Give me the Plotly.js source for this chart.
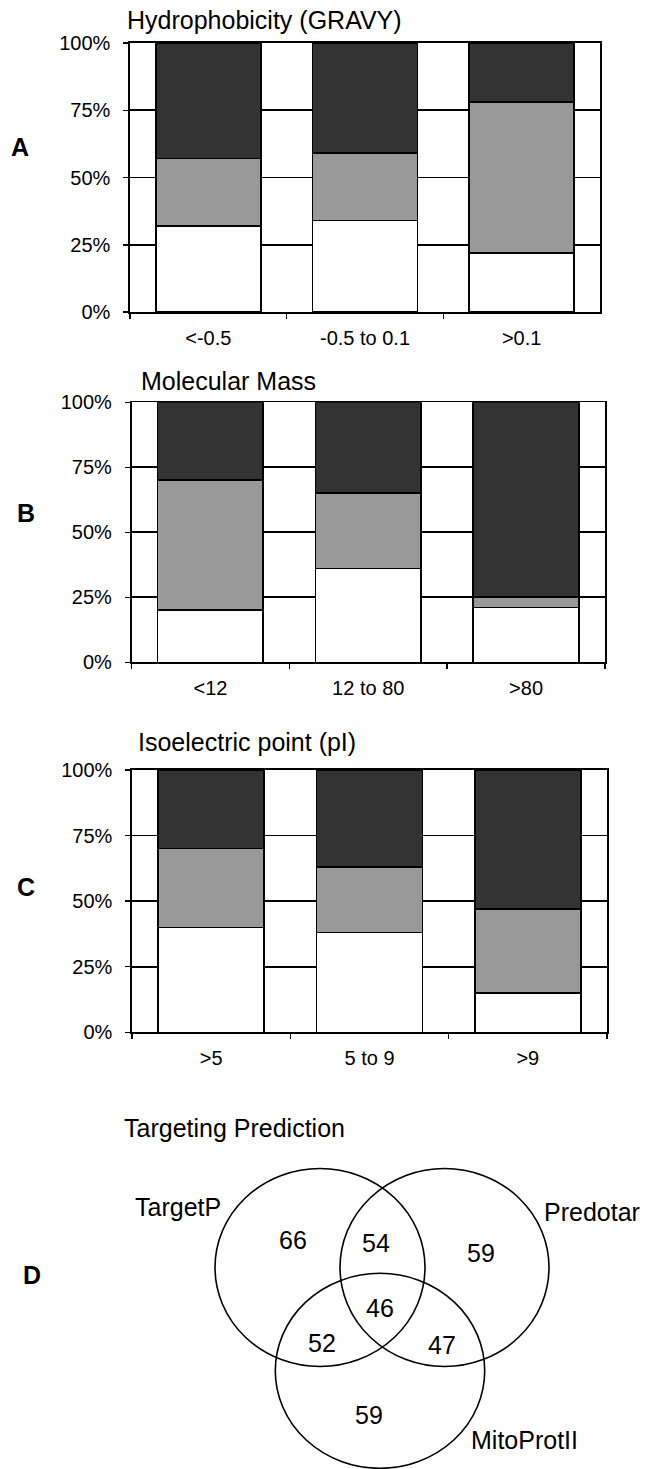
<!DOCTYPE html>
<html>
<head>
<meta charset="utf-8">
<script src="https://cdn.plot.ly/plotly-3.0.1.min.js"></script>
<style>
  html, body { margin: 0; padding: 0; background: #ffffff; }
  #chart { width: 647px; height: 1469px; }
</style>
</head>
<body>
<div id="chart"></div>
<script>
// ---------------- DATA ----------------
const categoriesA = ['<-0.5', '-0.5 to 0.1', '>0.1'];
const whiteA = [32, 34, 22];
const grayA  = [25, 25, 56];
const darkA  = [43, 41, 22];

const categoriesB = ['<12', '12 to 80', '>80'];
const whiteB = [20, 36, 21];
const grayB  = [50, 29, 4];
const darkB  = [30, 35, 75];

const categoriesC = ['>5', '5 to 9', '>9'];
const whiteC = [40, 38, 15];
const grayC  = [30, 25, 32];
const darkC  = [30, 37, 53];

const yTickVals = [0, 25, 50, 75, 100];
const yTickText = ['0%', '25%', '50%', '75%', '100%'];

const panelTitles = ['Hydrophobicity (GRAVY)', 'Molecular Mass', 'Isoelectric point (pI)', 'Targeting Prediction'];
const panelLetters = ['A', 'B', 'C', 'D'];

const vennSets = ['TargetP', 'Predotar', 'MitoProtII'];
const vennRegions = ['TargetP only', 'Predotar only', 'MitoProtII only',
                     'TargetP & Predotar', 'TargetP & MitoProtII', 'Predotar & MitoProtII', 'All three'];
const vennCounts = [66, 59, 59, 54, 52, 47, 46];

// ---------------- LAYOUT GEOMETRY (pixels on the 647x1469 page) ----------------
const W = 647, H = 1469;
const px = x => x / W;
const py = y => 1 - y / H;

const FONT = 'Liberation Sans, Arial, Helvetica, sans-serif';
const DARK = '#333333', GRAY = '#999999', WHITE = '#ffffff';

const panels = [
  {cats: categoriesA, white: whiteA, gray: grayA, dark: darkA, x0: 130, x1: 600, yTop: 43, yBot: 312},
  {cats: categoriesB, white: whiteB, gray: grayB, dark: darkB, x0: 131.5, x1: 605, yTop: 402.3, yBot: 662.3},
  {cats: categoriesC, white: whiteC, gray: grayC, dark: darkC, x0: 132, x1: 607, yTop: 770, yBot: 1032.3}
];

const titlePos  = [{x: 125, y: 20}, {x: 139, y: 381}, {x: 136, y: 742}, {x: 122, y: 1128}];
const letterPos = [{x: 20, y: 147}, {x: 26, y: 513}, {x: 26, y: 887}, {x: 32, y: 1275}];

const vennCircles = [
  {cx: 320,   cy: 1267.5, rx: 105,   ry: 99},
  {cx: 444.5, cy: 1267.5, rx: 104.5, ry: 99},
  {cx: 380,   cy: 1370.8, rx: 104.7, ry: 97.5}
];
const vennSetLabelPos = [{x: 178, y: 1207}, {x: 592, y: 1212}, {x: 524, y: 1440}];
const vennCountPos = [
  {x: 293, y: 1240}, {x: 481, y: 1253}, {x: 369, y: 1415},
  {x: 376, y: 1243}, {x: 322, y: 1343}, {x: 442, y: 1345}, {x: 380, y: 1308}
];

// ---------------- BUILD ----------------
const data = [];
const layout = {
  width: W, height: H,
  margin: {l: 0, r: 0, t: 0, b: 0},
  paper_bgcolor: '#ffffff',
  plot_bgcolor: '#ffffff',
  barmode: 'stack',
  bargap: 0.33,
  showlegend: false,
  font: {family: FONT, color: '#000000', size: 20},
  shapes: [],
  annotations: []
};

panels.forEach((p, i) => {
  const n = i === 0 ? '' : String(i + 1);
  const xa = 'x' + n, ya = 'y' + n;
  const line = {color: '#000000', width: 1.6};
  [['white', p.white, WHITE], ['gray', p.gray, GRAY], ['dark', p.dark, DARK]].forEach(([nm, vals, col]) => {
    data.push({
      type: 'bar', name: nm, x: p.cats, y: vals,
      xaxis: xa, yaxis: ya,
      marker: {color: col, line: line},
      hoverinfo: 'skip'
    });
  });
  layout['xaxis' + n] = {
    domain: [px(p.x0), px(p.x1)],
    anchor: ya,
    type: 'category',
    tickson: 'boundaries',
    ticks: 'outside', ticklen: 5, tickwidth: 1.5, tickcolor: '#000',
    showline: true, linecolor: '#000', linewidth: 1.6, mirror: true,
    showgrid: false, zeroline: false,
    tickfont: {family: FONT, size: 20, color: '#000'},
    ticklabelstandoff: 7,
    fixedrange: true
  };
  layout['yaxis' + n] = {
    domain: [py(p.yBot), py(p.yTop)],
    anchor: xa,
    range: [0, 100],
    tickvals: yTickVals, ticktext: yTickText,
    ticks: 'outside', ticklen: 5, tickwidth: 1.5, tickcolor: '#000',
    showline: true, linecolor: '#000', linewidth: 1.6, mirror: true,
    showgrid: true, gridcolor: '#000', gridwidth: 1.6,
    zeroline: false,
    tickfont: {family: FONT, size: 20, color: '#000'},
    ticklabelstandoff: 9,
    fixedrange: true
  };
});

// titles and panel letters
panelTitles.forEach((t, i) => {
  layout.annotations.push({
    xref: 'paper', yref: 'paper', x: px(titlePos[i].x), y: py(titlePos[i].y),
    xanchor: 'left', yanchor: 'middle', showarrow: false,
    text: t, font: {family: FONT, size: 25, color: '#000'}
  });
});
panelLetters.forEach((t, i) => {
  layout.annotations.push({
    xref: 'paper', yref: 'paper', x: px(letterPos[i].x), y: py(letterPos[i].y),
    xanchor: 'center', yanchor: 'middle', showarrow: false,
    text: '<b>' + t + '</b>', font: {family: FONT, size: 25, color: '#000'}
  });
});

// Venn diagram
vennCircles.forEach(c => {
  layout.shapes.push({
    type: 'circle', xref: 'paper', yref: 'paper',
    x0: px(c.cx - c.rx), x1: px(c.cx + c.rx),
    y0: py(c.cy + c.ry), y1: py(c.cy - c.ry),
    line: {color: '#000', width: 1.6}, fillcolor: 'rgba(0,0,0,0)'
  });
});
vennSets.forEach((s, i) => {
  layout.annotations.push({
    xref: 'paper', yref: 'paper', x: px(vennSetLabelPos[i].x), y: py(vennSetLabelPos[i].y),
    xanchor: 'center', yanchor: 'middle', showarrow: false,
    text: s, font: {family: FONT, size: 25, color: '#000'}
  });
});
vennCounts.forEach((v, i) => {
  layout.annotations.push({
    xref: 'paper', yref: 'paper', x: px(vennCountPos[i].x), y: py(vennCountPos[i].y),
    xanchor: 'center', yanchor: 'middle', showarrow: false,
    text: String(v), hovertext: vennRegions[i],
    font: {family: FONT, size: 25, color: '#000'}
  });
});

Plotly.newPlot('chart', data, layout, {displayModeBar: false, staticPlot: true});
</script>
</body>
</html>
